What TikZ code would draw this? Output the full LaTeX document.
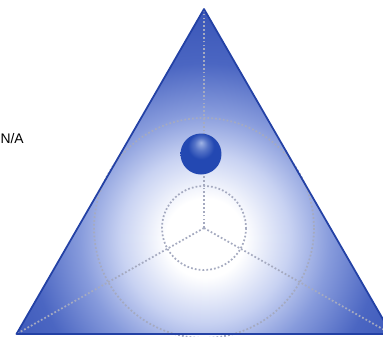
\documentclass[tikz,border=0pt]{standalone}
\usepackage{fontspec}
\setmainfont{Liberation Sans}

\definecolor{edgeblue}{RGB}{35,65,165}
\definecolor{cornerblue}{RGB}{60,88,185}
\definecolor{deepblue}{RGB}{75,102,194}
\definecolor{midblue}{RGB}{135,155,220}
\definecolor{paleblue}{RGB}{200,210,242}
\definecolor{dotgray}{RGB}{165,170,192}
\definecolor{ballhi}{RGB}{160,180,230}
\definecolor{ballmid}{RGB}{35,72,178}
\definecolor{balldark}{RGB}{20,45,135}

\pgfdeclareradialshading{glow}{\pgfpoint{0bp}{0bp}}{%
  color(0bp)=(white); color(4.3bp)=(white); color(9.2bp)=(paleblue);
  color(13.6bp)=(midblue); color(19bp)=(deepblue); color(24bp)=(cornerblue);
  color(50bp)=(cornerblue)}
\pgfdeclareradialshading{ballglow}{\pgfpoint{0bp}{14bp}}{%
  color(0bp)=(ballhi); color(8bp)=(ballmid!60!ballhi); color(16bp)=(ballmid);
  color(30bp)=(ballmid); color(38bp)=(balldark); color(50bp)=(balldark)}

\tikzset{
  guide/.style={dotgray, line width=1pt, dash pattern=on 1pt off 1.2pt},
  rim/.style={edgeblue, line width=1pt, line join=round}
}

\begin{document}
\begin{tikzpicture}[x=0.02cm, y=-0.02cm]
    \useasboundingbox (0,0) rectangle (383,336);

    % Triangle corners and centre
    \coordinate (apex) at (204,9);
    \coordinate (lc) at (16.5,334);
    \coordinate (rc) at (391.5,334);
    \coordinate (centre) at (204,228);

    % Shaded body
    \begin{scope}
        \clip (apex) -- (lc) -- (rc) -- cycle;
        \shade[shading=glow] (205,238) circle (230);
    \end{scope}

    % Guide circles and spokes
    \draw[guide] (centre) circle (42);
    \draw[guide] (centre) circle (110);
    \foreach \c in {apex, lc, rc} {
        \draw[guide] (centre) -- (\c);
    }

    % Outline
    \draw[rim] (apex) -- (lc) -- (rc) -- cycle;

    % Ball
    \shade[shading=ballglow] (201,154) circle (20.5);
    \node[circle, minimum size=0pt, inner sep=0pt] (ball) at (201,154) {};

    % Label
    \node[anchor=east, inner sep=0pt, font=\fontsize{7.9}{9}\selectfont] (na) at (24,139) {N/A};
\end{tikzpicture}
\end{document}
